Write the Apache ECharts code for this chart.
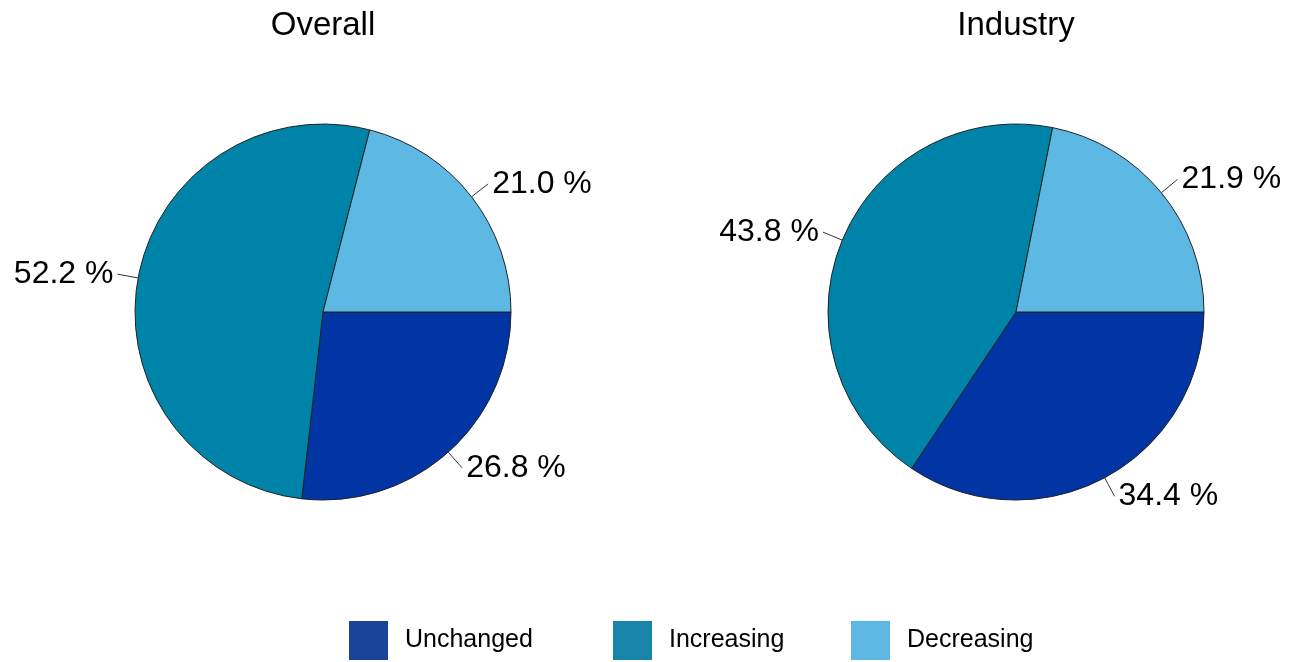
<!DOCTYPE html>
<html>
<head>
<meta charset="utf-8">
<script src="https://cdn.jsdelivr.net/npm/echarts@6/dist/echarts.min.js"></script>
<style>
html,body{margin:0;padding:0;background:#fff;}
#chart{width:1295px;height:662px;}
</style>
</head>
<body>
<div id="chart"></div>
<script>
const categories = ['Unchanged', 'Increasing', 'Decreasing'];
const overallValues = [26.8, 52.2, 21.0];
const industryValues = [34.4, 43.8, 21.9];
const pieTitles = ['Overall', 'Industry'];
const colors = ['#0035A3', '#0083A9', '#5DB9E4'];
const legendColors = ['#1A4399', '#1884A9', '#5DB9E4'];

const FONT = '"Liberation Sans", Arial, sans-serif';

function makePie(values, cx) {
  return {
    type: 'pie',
    center: [cx, 312],
    radius: 188,
    startAngle: 0,
    clockwise: true,
    silent: true,
    animation: false,
    avoidLabelOverlap: false,
    itemStyle: { borderColor: '#222', borderWidth: 1 },
    label: {
      show: true,
      position: 'outside',
      formatter: p => p.value.toFixed(1) + ' %',
      fontFamily: FONT,
      fontSize: 32,
      color: '#000',
      distanceToLabelLine: 4
    },
    labelLine: { show: true, length: 21, length2: 0, lineStyle: { color: '#333', width: 1 } },
    data: categories.map((c, i) => ({ name: c, value: values[i], itemStyle: { color: colors[i] } }))
  };
}

const legendLefts = [349, 613, 851];
const chart = echarts.init(document.getElementById('chart'), null, { renderer: 'canvas' });
chart.setOption({
  backgroundColor: '#fff',
  animation: false,
  title: [
    { text: pieTitles[0], left: 323, top: 9, padding: 0, textAlign: 'center', textStyle: { fontFamily: FONT, fontSize: 33, fontWeight: 'normal', color: '#000' } },
    { text: pieTitles[1], left: 1016, top: 9, padding: 0, textAlign: 'center', textStyle: { fontFamily: FONT, fontSize: 33, fontWeight: 'normal', color: '#000' } }
  ],
  legend: categories.map((c, i) => ({
    data: [{ name: c, itemStyle: { color: legendColors[i], borderWidth: 0 } }],
    left: legendLefts[i],
    top: 621,
    padding: 0,
    icon: 'rect',
    itemWidth: 39,
    itemHeight: 39,
    itemGap: 0,
    selectedMode: false,
    itemStyle: { borderWidth: 0 },
    textStyle: { fontFamily: FONT, fontSize: 25, color: '#000', padding: [0, 0, 0, 12] }
  })),
  series: [makePie(overallValues, 323), makePie(industryValues, 1016)]
});
</script>
</body>
</html>
